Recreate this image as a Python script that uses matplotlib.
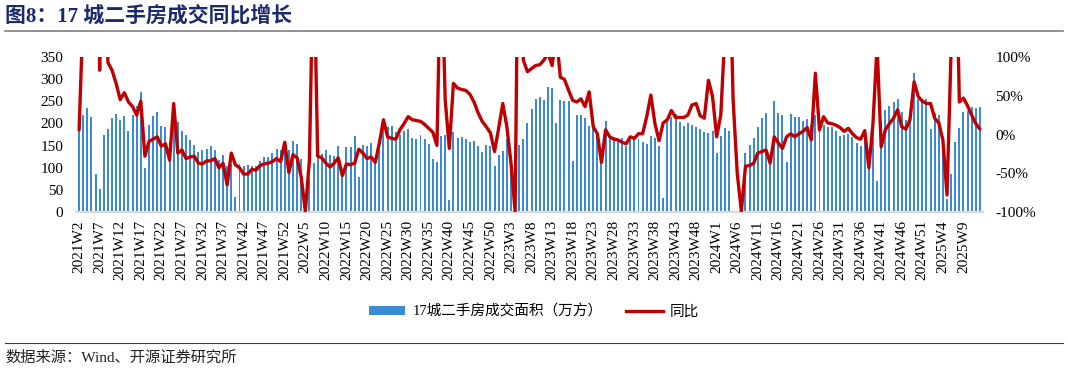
import matplotlib
matplotlib.use("Agg")
import matplotlib.pyplot as plt
from matplotlib.lines import Line2D
from matplotlib.patches import Patch
from matplotlib.font_manager import FontProperties
import numpy as np

# ---------------- data ----------------
years = [2021, 2022, 2023, 2024, 2025]
first_week = {2021: 2, 2022: 1, 2023: 1, 2024: 1, 2025: 1}
last_week = {2021: 52, 2022: 52, 2023: 52, 2024: 52, 2025: 13}

area_2021 = [190, 218, 235, 214, 86, 51, 173, 187, 213, 222,
             207, 216, 182, 220, 240, 270, 99, 196, 217, 226,
             194, 193, 159, 205, 203, 183, 174, 163, 152, 136,
             140, 143, 148, 140, 118, 129, 105, 108, 34, 108,
             104, 107, 104, 104, 116, 124, 125, 133, 142, 139, 150]
area_2022 = [140, 160, 154, 120, 3, 75, 110, 122, 131, 139,
             129, 127, 148, 85, 146, 146, 172, 80, 152, 149,
             155, 120, 160, 192, 192, 195, 180, 174, 184, 188,
             167, 164, 173, 164, 154, 119, 113, 172, 174, 28,
             181, 167, 170, 164, 158, 161, 148, 135, 152, 148,
             104, 129]
area_2023 = [137, 165, 100, 3, 152, 165, 200, 232, 256, 260,
             253, 283, 279, 200, 254, 251, 250, 115, 218, 220,
             212, 194, 189, 180, 140, 205, 170, 170, 164, 166,
             149, 170, 166, 164, 159, 153, 172, 166, 150, 31,
             204, 215, 221, 204, 194, 200, 196, 191, 187, 181,
             179, 183]
area_2024 = [134, 172, 189, 183, 0, 0, 0, 134, 152, 166,
             191, 212, 224, 114, 251, 223, 219, 114, 221, 214,
             215, 205, 209, 196, 219, 204, 196, 191, 193, 183,
             172, 174, 176, 170, 155, 149, 185, 110, 180, 69,
             160, 230, 239, 249, 256, 226, 208, 224, 313, 256,
             253, 255]
area_2025 = [188, 223, 219, 170, 30, 86, 157, 190, 225, 227,
             237, 234, 238]

yoy_2021 = [6, 160, 250, 300, 500, 83, 400, 93, 83, 66,
            45, 54, 42, 36, 25, 43, -28, -9, -6, -3,
            -15, -12, -33, 40, -24, -20, -31, -29, -28, -37,
            -38, -34, -34, -31, -43, -37, -65, -24, -39, -43,
            -51, -51, -45, -46, -40, -38, -37, -35, -31, -35, -10]
yoy_2022 = [-49, -26, -30, -55, -99, -33, 250, -28, -30, -37,
            -42, -37, -30, -53, -38, -39, -37, -19, -24, -31,
            -29, -36, -11, 19, -3, -5, -6, 6, 14, 23,
            19, 18, 17, 13, 8, 3, -14, 250, 45, -18,
            66, 60, 58, 57, 52, 42, 28, 17, 10, 2,
            -22, 8]
yoy_2023 = [40, 10, -37, -99, 400, 96, 81, 85, 89, 90,
            96, 105, 89, 130, 74, 71, 57, 44, 42, 46,
            36, 55, 10, 1, -36, 6, -3, -6, -7, -10,
            -12, -3, -5, 1, 1, 23, 51, 14, -8, 15,
            19, 31, 22, 22, 22, 25, 38, 40, 24, 21,
            70, 49]
yoy_2024 = [-3, 25, 130, 265, 45, -50, -99, -41, -40, -37,
            -24, -22, -20, -37, -3, -11, -18, -3, 1, -3,
            1, 4, 9, -7, 79, 6, 23, 15, 14, 12,
            9, 4, 8, 1, -4, -6, 5, -43, 14, 115,
            -16, 6, 14, 21, 32, 10, 7, 19, 68, 49,
            43, 40]
yoy_2025 = [40, 21, 15, -7, -78, 110, 300, 42, 47, 37,
            25, 14, 7]

weeks = [f"{y}W{w}" for y in years for w in range(first_week[y], last_week[y] + 1)]
area = area_2021 + area_2022 + area_2023 + area_2024 + area_2025
yoy = yoy_2021 + yoy_2022 + yoy_2023 + yoy_2024 + yoy_2025

bar_label = "17城二手房成交面积（万方）"
line_label = "同比"
title = "图8：17 城二手房成交同比增长"
source = "数据来源：Wind、开源证券研究所"

# ---------------- style ----------------
serif = "Liberation Serif"
mixed = [serif, "Noto Sans CJK SC"]
plt.rcParams["font.family"] = mixed

BAR = "#3A8AD6"
RED = "#C00000"

W, H = 1068, 374
fig = plt.figure(figsize=(W / 100, H / 100), dpi=100)
ax = fig.add_axes([76 / W, 1 - 212 / H, (983 - 76) / W, (212 - 57) / H])

x = np.arange(len(weeks))
ax.bar(x, area, width=0.48, color=BAR, zorder=2)
ax.set_ylim(0, 350)
ax.set_yticks(range(0, 351, 50))
ax.set_xlim(-0.75, len(weeks) - 0.25)
ax.set_xticks(x[::5])
ax.set_xticklabels(weeks[::5], rotation=90)

for s in ["top", "left", "right"]:
    ax.spines[s].set_visible(False)
ax.spines["bottom"].set_color("#D9D9D9")
ax.spines["bottom"].set_linewidth(1.6)
ax.tick_params(axis="both", length=0, labelsize=11)
ax.tick_params(axis="y", pad=9)
ax.tick_params(axis="x", pad=6)
for lab in ax.get_xticklabels() + ax.get_yticklabels():
    lab.set_family(serif)

ax2 = ax.twinx()
ax2.plot(x, yoy, color=RED, lw=2.4, solid_joinstyle="round",
         solid_capstyle="round", zorder=3)
ax2.set_ylim(-100, 100)
ax2.set_yticks(range(-100, 101, 50))
ax2.set_yticklabels([f"{v}%" for v in range(-100, 101, 50)])
for s in ax2.spines.values():
    s.set_visible(False)
ax2.tick_params(axis="y", length=0, labelsize=11, pad=9)
for lab in ax2.get_yticklabels():
    lab.set_family(serif)

handles = [Patch(facecolor=BAR, edgecolor="none"),
           Line2D([0], [0], color=RED, lw=2.4)]
fig.legend(handles, [bar_label, line_label], loc="center",
           bbox_to_anchor=(0.5, 1 - 312 / H), ncol=2, frameon=False,
           prop=FontProperties(family=mixed, size=10.5),
           handlelength=2.5, handleheight=0.55, columnspacing=1.6,
           handletextpad=0.5)

fig.text(5 / W, 1 - 16 / H, title, ha="left", va="center",
         fontsize=15, fontweight="bold", color="#1B2A6B", family=mixed)
fig.add_artist(Line2D([5 / W, 1063 / W], [1 - 31 / H] * 2,
                      color="#7F7F7F", lw=1.2))
fig.add_artist(Line2D([5 / W, 1063 / W], [1 - 343 / H] * 2,
                      color="#404040", lw=0.8))
fig.text(5 / W, 1 - 358 / H, source, ha="left", va="center",
         fontsize=11, color="#222222", family=mixed)

fig.savefig("out.png", dpi=100)
